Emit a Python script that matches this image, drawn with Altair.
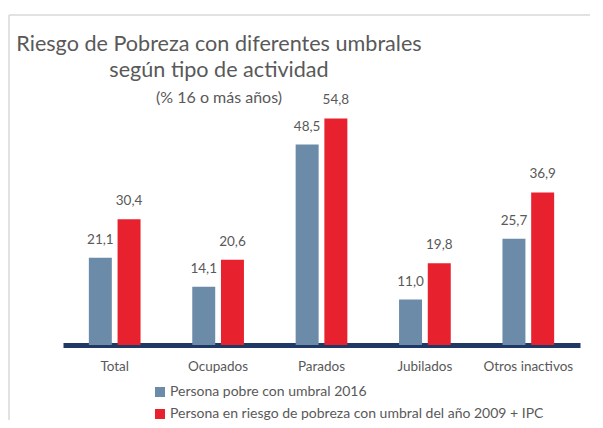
import altair as alt
import pandas as pd

categories = ["Total", "Ocupados", "Parados", "Jubilados", "Otros inactivos"]
series_names = ["Persona pobre con umbral 2016",
                "Persona en riesgo de pobreza con umbral del año 2009 + IPC"]
values_2016 = [21.1, 14.1, 48.5, 11.0, 25.7]
values_2009 = [30.4, 20.6, 54.8, 19.8, 36.9]
colors = ["#6C8BA8", "#E8212F"]
title_lines = ["Riesgo de Pobreza con diferentes umbrales", "según tipo de actividad", "(% 16 o más años)"]

rows = []
for c, a, b in zip(categories, values_2016, values_2009):
    rows.append({"cat": c, "serie": series_names[0], "val": a, "lab": f"{a:.1f}".replace(".", ",")})
    rows.append({"cat": c, "serie": series_names[1], "val": b, "lab": f"{b:.1f}".replace(".", ",")})
df = pd.DataFrame(rows)
one = pd.DataFrame({"k": [0]})

FONT = "Lato"
GRAY = "#595959"

x = alt.X("cat:N", sort=categories, title=None,
          scale=alt.Scale(paddingInner=0.5, paddingOuter=0.25),
          axis=alt.Axis(labelAngle=0, labelFontSize=13.5, labelColor=GRAY, labelFont=FONT,
                        ticks=False, domainColor="#1F3864", domainWidth=5, labelPadding=14))
xo = alt.XOffset("serie:N", sort=series_names, scale=alt.Scale(paddingInner=0.2))
y = alt.Y("val:Q", scale=alt.Scale(domain=[0, 60]), axis=None)

bars = alt.Chart(df).mark_bar().encode(
    x=x, xOffset=xo, y=y,
    color=alt.Color("serie:N", sort=series_names,
                    scale=alt.Scale(domain=series_names, range=colors),
                    legend=alt.Legend(title=None, orient="none", legendX=90, legendY=288,
                                      symbolType="square", symbolSize=100, symbolStrokeWidth=0,
                                      labelFontSize=14, labelColor=GRAY, labelFont=FONT,
                                      labelOffset=3, rowPadding=8, padding=0, labelLimit=500)),
)

labels = alt.Chart(df).mark_text(dy=-18, fontSize=13.5, color=GRAY, font=FONT).encode(
    x=x, xOffset=xo, y=y, text="lab:N")

def line(txt, xv, yv, size):
    return alt.Chart(one).mark_text(fontSize=size, color=GRAY, font=FONT, align="center",
                                     baseline="middle").encode(
        x=alt.value(xv), y=alt.value(yv), text=alt.value(txt))

t1 = line(title_lines[0], 156, -52, 21.6)
t2 = line(title_lines[1], 156, -26, 21.6)
t3 = line(title_lines[2], 156, 1, 16)

frame_top = alt.Chart(one).mark_rule(color="#D9D9D9", strokeWidth=1.5).encode(
    x=alt.value(-54), x2=alt.value(540), y=alt.value(-82))
frame_left = alt.Chart(one).mark_rule(color="#D9D9D9", strokeWidth=1.5).encode(
    x=alt.value(-54), y=alt.value(-82), y2=alt.value(331))

chart = alt.layer(frame_top, frame_left, bars, labels, t1, t2, t3).properties(
    width=517, height=248,
    autosize=alt.AutoSizeParams(type="none"),
    padding={"left": 55, "top": 89, "right": 10, "bottom": 75},
).configure(background="white").configure_view(stroke=None, strokeWidth=0)

chart.save("out.html", embed_options={"renderer": "svg", "actions": False})
